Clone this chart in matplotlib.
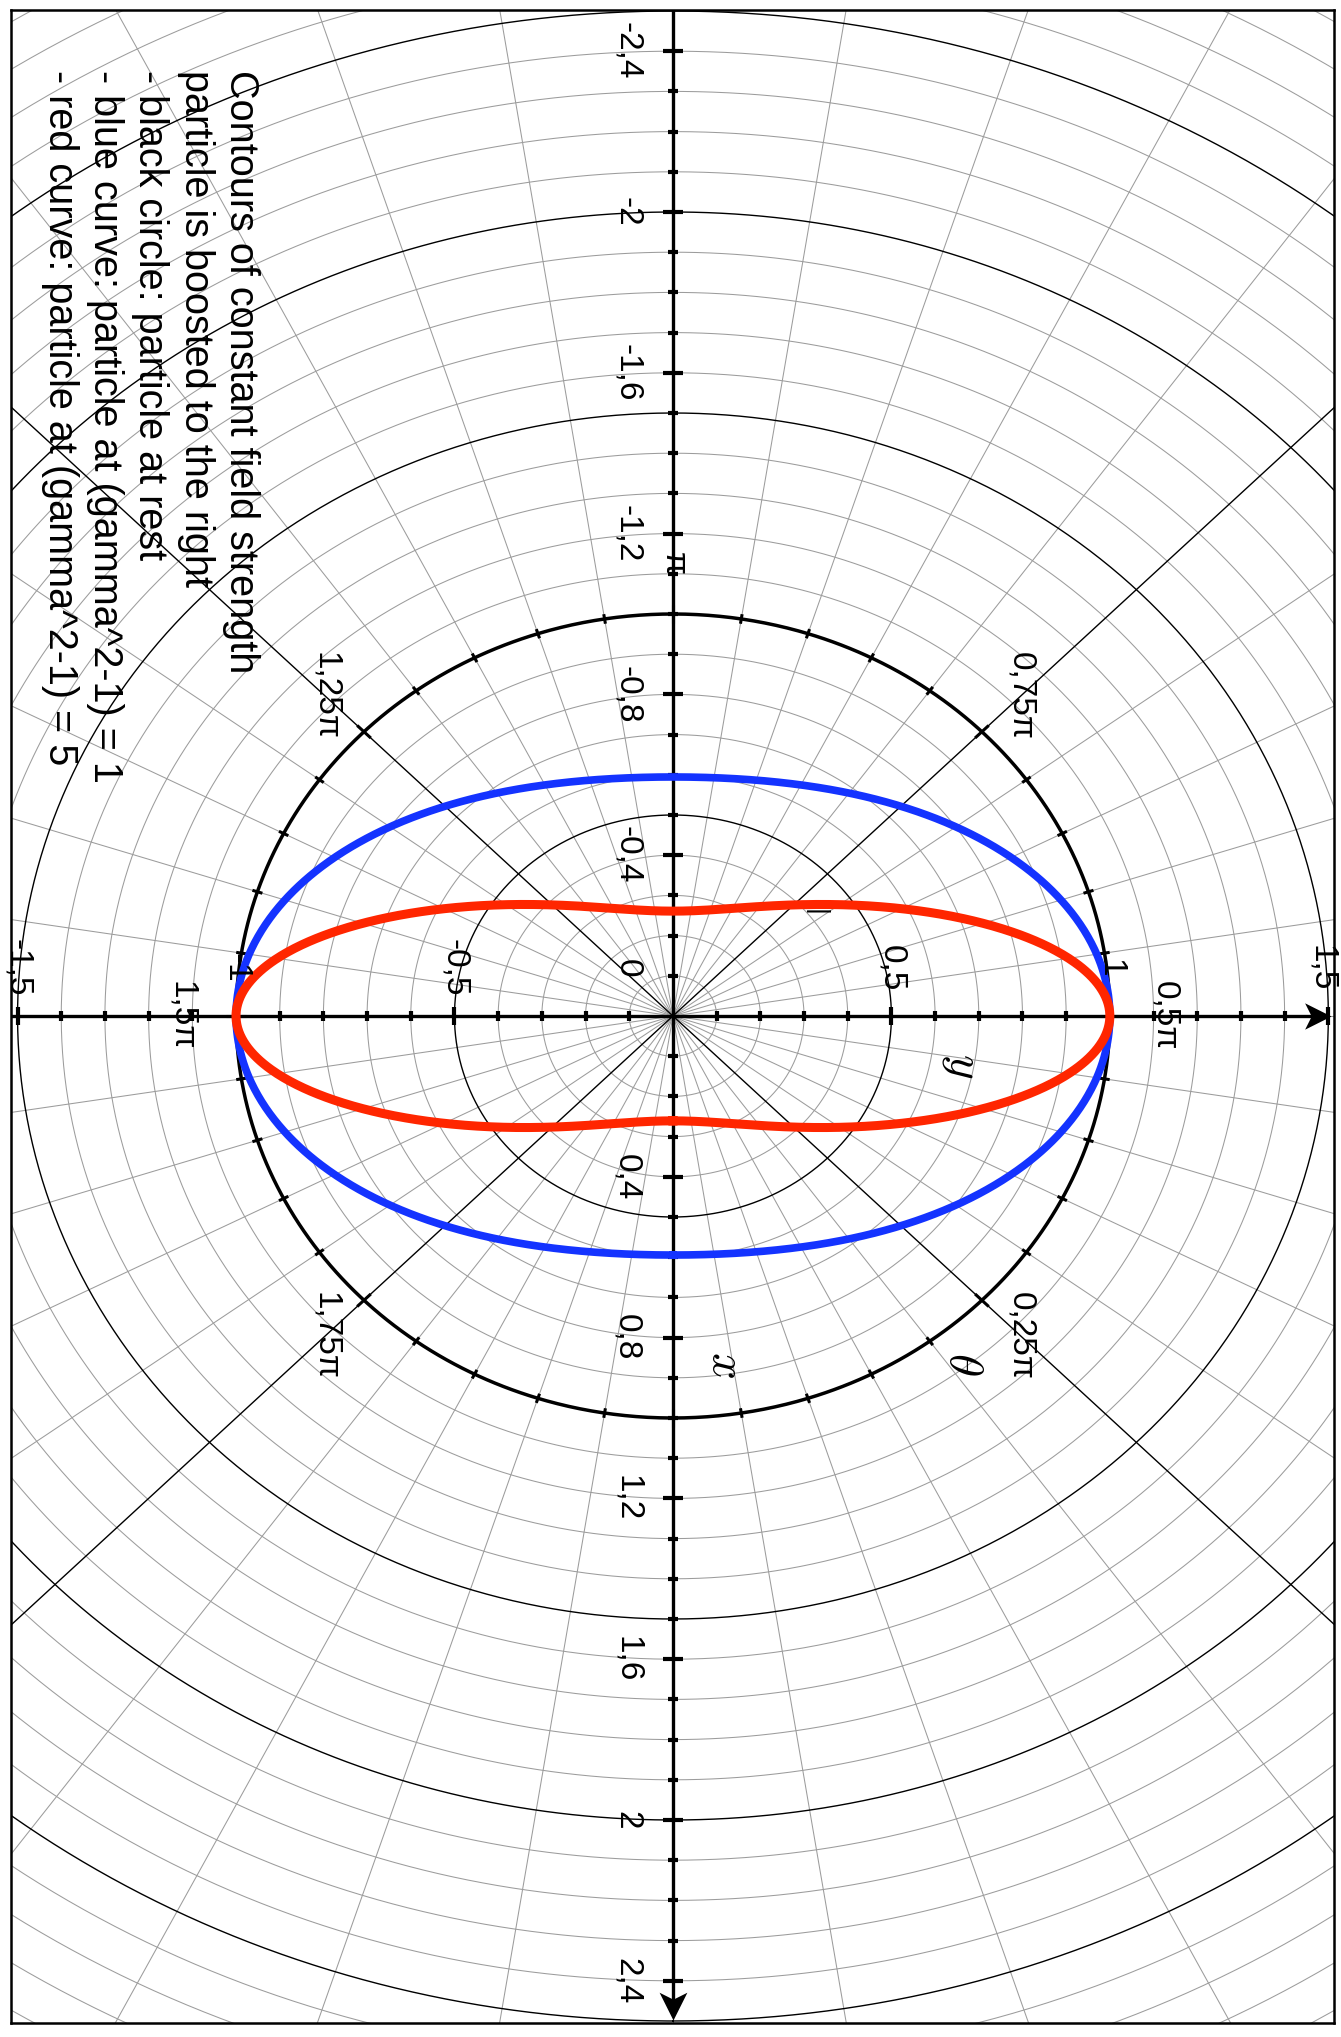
import numpy as np
import matplotlib.pyplot as plt
from matplotlib.path import Path

plt.rcParams['font.family'] = ['Liberation Sans', 'DejaVu Sans']
plt.rcParams['mathtext.fontset'] = 'cm'

# the picture is turned a quarter: x runs down the page, y runs to the right
x_major = [-2.4, -2.0, -1.6, -1.2, -0.8, -0.4, 0.4, 0.8, 1.2, 1.6, 2.0, 2.4]
x_labels = ['-2,4', '-2', '-1,6', '-1,2', '-0,8', '-0,4', '0,4', '0,8', '1,2', '1,6', '2', '2,4']
y_major = [-1.5, -1.0, -0.5, 0.5, 1.0, 1.5]
y_labels = ['-1,5', '-1', '-0,5', '0,5', '1', '1,5']

angle_fracs = [0.25, 0.5, 0.75, 1.0, 1.25, 1.5, 1.75]
angle_labels = ['0,25π', '0,5π', '0,75π', 'π', '1,25π', '1,5π', '1,75π']

# (gamma^2 - 1) of the boosted particle, one curve each
gamma2_minus_1 = [1, 5]
curve_colors = ['#1433ff', '#ff2600']
curve_widths = [5.5, 6.5]

caption = [
    'Contours of constant field strength',
    'particle is boosted to the right',
    '- black circle: particle at rest',
    '- blue curve: particle at (gamma^2-1) = 1',
    '- red curve: particle at (gamma^2-1) = 5',
]

fig = plt.figure(figsize=(13.41, 20.37), dpi=100)
ax = fig.add_axes([11 / 1341, 14 / 2037, 1323 / 1341, 2013 / 2037])
ax.set_xlim(-1.515, 1.513)
ax.set_ylim(2.505, -2.5025)
ax.set_xticks([])
ax.set_yticks([])
for s in ax.spines.values():
    s.set_linewidth(1.8)

t = np.linspace(0, 2 * np.pi, 1200)
grey = '#9c9c9c'

# polar grid: circles every 0.1, darker every 0.5
for r in np.round(np.arange(0.1, 3.01, 0.1), 2):
    if abs(r - 1) < 1e-6:
        continue
    dark = abs(r * 2 - round(r * 2)) < 1e-6
    ax.plot(r * np.sin(t), r * np.cos(t),
            color='k' if dark else grey, lw=1.0 if dark else 0.75,
            zorder=2 if dark else 1)

# radial lines every pi/20, darker at the quarter-pi diagonals
for k in range(40):
    a = k * np.pi / 20
    dark = k % 5 == 0 and k % 10 != 0
    ax.plot([0, 3.2 * np.sin(a)], [0, 3.2 * np.cos(a)],
            color='k' if dark else grey, lw=1.0 if dark else 0.75,
            zorder=2 if dark else 1)

# unit circle with angle ticks
ax.plot(np.sin(t), np.cos(t), color='k', lw=2.5, zorder=3)
for k in range(40):
    a = k * np.pi / 20
    d = 0.022 if k % 5 == 0 else 0.012
    ax.plot([(1 - d) * np.sin(a), (1 + d) * np.sin(a)],
            [(1 - d) * np.cos(a), (1 + d) * np.cos(a)],
            color='k', lw=2.2, zorder=3, solid_capstyle='butt')

# the two axes, with notched arrow heads at the positive ends
ax.plot([0, 0], [-2.5025, 2.47], color='k', lw=2.4, zorder=4)
ax.plot([-1.515, 1.48], [0, 0], color='k', lw=2.4, zorder=4)
head_down = Path([(0, 0), (-0.5, 1), (0, 0.75), (0.5, 1), (0, 0)],
                 [Path.MOVETO, Path.LINETO, Path.LINETO, Path.LINETO, Path.CLOSEPOLY])
head_right = Path([(0, 0), (-1, 0.5), (-0.75, 0), (-1, -0.5), (0, 0)],
                  [Path.MOVETO, Path.LINETO, Path.LINETO, Path.LINETO, Path.CLOSEPOLY])
ax.plot([0], [2.497], marker=head_down, ms=40, color='k', mew=0, zorder=4)
ax.plot([1.506], [0], marker=head_right, ms=38, color='k', mew=0, zorder=4)

x_minor = [v for v in np.round(np.arange(-2.4, 2.41, 0.1), 2)
           if abs(v) > 1e-6 and min(abs(v - m) for m in x_major) > 1e-6]
y_minor = [v for v in np.round(np.arange(-1.4, 1.41, 0.1), 2)
           if abs(v) > 1e-6 and min(abs(v - m) for m in y_major) > 1e-6]
ax.plot(np.zeros(len(x_minor)), x_minor, ls='none', marker='_', ms=7.2, mew=3, color='k', zorder=4)
ax.plot(np.zeros(len(x_major)), x_major, ls='none', marker='_', ms=15, mew=3, color='k', zorder=4)
ax.plot(y_minor, np.zeros(len(y_minor)), ls='none', marker='|', ms=7.2, mew=3, color='k', zorder=4)
ax.plot(y_major, np.zeros(len(y_major)), ls='none', marker='|', ms=13, mew=3, color='k', zorder=4)

# field contours of the boosted charge, scaled to r = 1 across the motion
th = np.linspace(0, 2 * np.pi, 1441)
for g, c, w in zip(gamma2_minus_1, curve_colors, curve_widths):
    b2 = g / (g + 1)
    r = ((1 - b2) / (1 - b2 * np.sin(th) ** 2)) ** 0.75
    ax.plot(r * np.sin(th), r * np.cos(th), color=c, lw=w, zorder=5)

rot = dict(rotation=270, rotation_mode='anchor', ha='center', va='center', zorder=6)
for v, lab in zip(x_major, x_labels):
    ax.text(-0.105, v, lab, fontsize=24, **rot)
ax.text(-0.105, -0.12, '0', fontsize=24, **rot)
for v, lab in zip(y_major, y_labels):
    h = max(min(v, 1.485), -1.5)
    ax.text(h, -0.12, lab, fontsize=24, **rot)
for f, lab in zip(angle_fracs, angle_labels):
    ax.text(1.125 * np.sin(f * np.pi), 1.125 * np.cos(f * np.pi), lab, fontsize=24, **rot)

ax.text(0.119, 0.866, r'$x$', fontsize=34, **rot)
ax.text(0.661, 0.124, r'$y$', fontsize=34, **rot)
ax.text(0.661, 0.866, r'$\theta$', fontsize=34, **rot)
ax.text(0.327, -0.257, '|', fontsize=19, **rot)

for i, line in enumerate(caption):
    ax.text(-1.014 - i * 0.1035, -2.353, line, fontsize=28.5, rotation=270,
            rotation_mode='anchor', ha='left', va='baseline', zorder=6)

fig.savefig('out.png', dpi=100)
